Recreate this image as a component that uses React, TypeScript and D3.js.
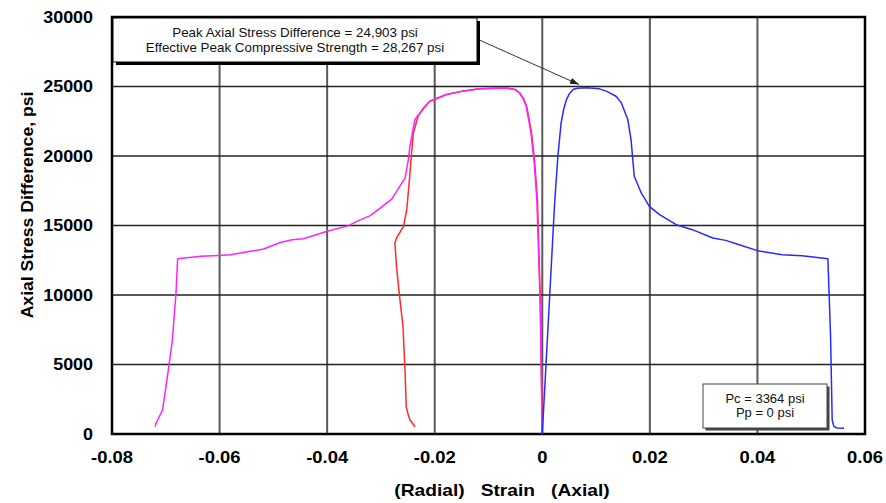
import React from "react";
import * as d3 from "d3";

const xTicks = [-0.08, -0.06, -0.04, -0.02, 0, 0.02, 0.04, 0.06];
const xTickLabels = ["-0.08", "-0.06", "-0.04", "-0.02", "0", "0.02", "0.04", "0.06"];
const yTicks = [0, 5000, 10000, 15000, 20000, 25000, 30000];
const yTickLabels = ["0", "5000", "10000", "15000", "20000", "25000", "30000"];

// Axial strain (blue)
const axialStrain = [0, 0.00137, 0.0023, 0.0029, 0.0035, 0.004, 0.0045, 0.005, 0.0057, 0.0065, 0.0082, 0.0095, 0.0106, 0.012, 0.0137, 0.0147, 0.0159, 0.0165, 0.0171, 0.0184, 0.0199, 0.0218, 0.0249, 0.0279, 0.0317, 0.0341, 0.0366, 0.04, 0.0446, 0.0483, 0.0531, 0.0536, 0.0539, 0.0542, 0.0548, 0.0561];
const axialStress = [0, 9890, 16640, 19980, 22380, 23400, 24060, 24450, 24780, 24870, 24903, 24880, 24830, 24650, 24300, 23820, 22620, 21180, 18540, 17340, 16380, 15780, 15060, 14700, 14100, 13930, 13620, 13190, 12900, 12820, 12610, 7010, 1010, 550, 430, 410];

// Red curve
const redStrain = [0, -0.00035, -0.0009, -0.0014, -0.002, -0.0029, -0.0035, -0.0042, -0.005, -0.0067, -0.009, -0.0116, -0.015, -0.0178, -0.0209, -0.0221, -0.0231, -0.0240, -0.0244, -0.0247, -0.0252, -0.0258, -0.0271, -0.0274, -0.0271, -0.0266, -0.0259, -0.0255, -0.0253, -0.0249, -0.0246, -0.02366];
const redStress = [0, 9440, 16800, 19500, 21660, 23580, 24150, 24550, 24780, 24900, 24880, 24830, 24650, 24420, 23940, 23460, 22860, 21600, 19740, 18300, 16140, 14940, 14100, 13740, 12050, 10140, 7730, 4370, 1970, 1350, 1010, 525];

// Radial strain (magenta)
const radialStrain = [0, -0.0004, -0.001, -0.0015, -0.0021, -0.003, -0.0036, -0.0043, -0.0051, -0.0067, -0.009, -0.0116, -0.015, -0.0178, -0.0209, -0.0221, -0.0237, -0.0246, -0.0249, -0.0255, -0.0280, -0.0305, -0.0320, -0.0345, -0.0360, -0.0400, -0.0444, -0.0465, -0.0487, -0.0518, -0.0542, -0.0580, -0.0601, -0.0635, -0.0678, -0.0681, -0.0688, -0.0697, -0.0706, -0.0718, -0.0720];
const radialStress = [0, 9440, 16800, 19500, 21660, 23580, 24150, 24550, 24780, 24900, 24880, 24830, 24650, 24420, 23940, 23400, 22620, 20700, 19740, 18420, 16900, 16140, 15710, 15300, 14990, 14580, 14050, 13980, 13780, 13310, 13140, 12900, 12850, 12780, 12610, 10140, 6650, 4130, 1730, 770, 530];

const annotationLines = ["Peak Axial Stress Difference = 24,903 psi", "Effective Peak Compressive Strength = 28,267 psi"];
const conditionLines = ["Pc = 3364 psi", "Pp = 0 psi"];

const W = 886, H = 503;
const L = 112, R = 865, T = 17, B = 434;
const FONT = "'Liberation Sans', Arial, sans-serif";

export default function App() {
  const x = d3.scaleLinear().domain([-0.08, 0.06]).range([L, R]);
  const y = d3.scaleLinear().domain([0, 30000]).range([B, T]);
  const path = (xs: number[], ys: number[]) =>
    d3
      .line<[number, number]>()
      .x((d) => x(d[0]))
      .y((d) => y(d[1]))(xs.map((v, i) => [v, ys[i]]) as [number, number][]) || "";

  return (
    <svg width={W} height={H} style={{ position: "absolute", left: 0, top: 0, background: "#fff" }}>
      <defs>
        <marker id="arr" viewBox="0 0 10 10" refX="10" refY="5" markerWidth="9" markerHeight="9" orient="auto" markerUnits="userSpaceOnUse">
          <path d="M0,1.5 L10,5 L0,8.5 z" fill="#222" />
        </marker>
      </defs>
      <rect x={0} y={0} width={W} height={H} fill="#fff" />
      {/* grid */}
      {xTicks.slice(1, -1).map((t) => (
        <line key={"gx" + t} x1={x(t)} x2={x(t)} y1={T} y2={B} stroke="#5a5a5a" strokeWidth={2} />
      ))}
      {yTicks.slice(1, -1).map((t) => (
        <line key={"gy" + t} x1={L} x2={R} y1={y(t)} y2={y(t)} stroke="#222" strokeWidth={1.5} />
      ))}
      {/* frame */}
      <rect x={L} y={T} width={R - L} height={B - T} fill="none" stroke="#000" strokeWidth={2.5} />
      {/* curves */}
      <path d={path(redStrain, redStress)} fill="none" stroke="#ff2a2a" strokeWidth={1.5} strokeLinejoin="round" />
      <path d={path(radialStrain, radialStress)} fill="none" stroke="#ff22ff" strokeWidth={1.5} strokeLinejoin="round" />
      <path d={path(axialStrain, axialStress)} fill="none" stroke="#2a2aff" strokeWidth={1.5} strokeLinejoin="round" />
      {/* y ticks */}
      {yTicks.map((t, i) => (
        <text key={"yt" + t} transform={`translate(93,${y(t) + 5.5}) scale(1.12,1)`} textAnchor="end" fontFamily={FONT} fontWeight="bold" fontSize={16} fill="#000">
          {yTickLabels[i]}
        </text>
      ))}
      {/* x ticks */}
      {xTicks.map((t, i) => (
        <text key={"xt" + t} transform={`translate(${x(t)},463) scale(1.15,1)`} textAnchor="middle" fontFamily={FONT} fontWeight="bold" fontSize={16} fill="#000">
          {xTickLabels[i]}
        </text>
      ))}
      {/* axis titles */}
      <text transform="translate(502,496) scale(1.2,1)" textAnchor="middle" fontFamily={FONT} fontWeight="bold" fontSize={16} style={{ whiteSpace: "pre" }}>
        {"(Radial)   Strain   (Axial)"}
      </text>
      <text transform="translate(33,205) rotate(-90) scale(1.1,1)" textAnchor="middle" fontFamily={FONT} fontWeight="bold" fontSize={16}>
        Axial Stress Difference, psi
      </text>
      {/* annotation arrow */}
      <line x1={477} y1={39} x2={579} y2={84.5} stroke="#333" strokeWidth={1} markerEnd="url(#arr)" />
      {/* annotation box */}
      <rect x={116} y={21} width={364} height={44} fill="#000" />
      <rect x={113} y={18} width={364} height={44} fill="#fff" stroke="#000" strokeWidth={1} />
      {annotationLines.map((s, i) => (
        <text key={s} transform={`translate(295,${36.5 + i * 15.6}) scale(1.03,1)`} textAnchor="middle" fontFamily={FONT} fontSize={13} fill="#111">
          {s}
        </text>
      ))}
      {/* conditions box */}
      <rect x={705.5} y={386.5} width={124} height={44} fill="#444" />
      <rect x={703} y={384} width={124} height={44} fill="#fff" stroke="#444" strokeWidth={1} />
      {conditionLines.map((s, i) => (
        <text key={s} x={765} y={403 + i * 14} textAnchor="middle" fontFamily={FONT} fontSize={13} fill="#111">
          {s}
        </text>
      ))}
    </svg>
  );
}
